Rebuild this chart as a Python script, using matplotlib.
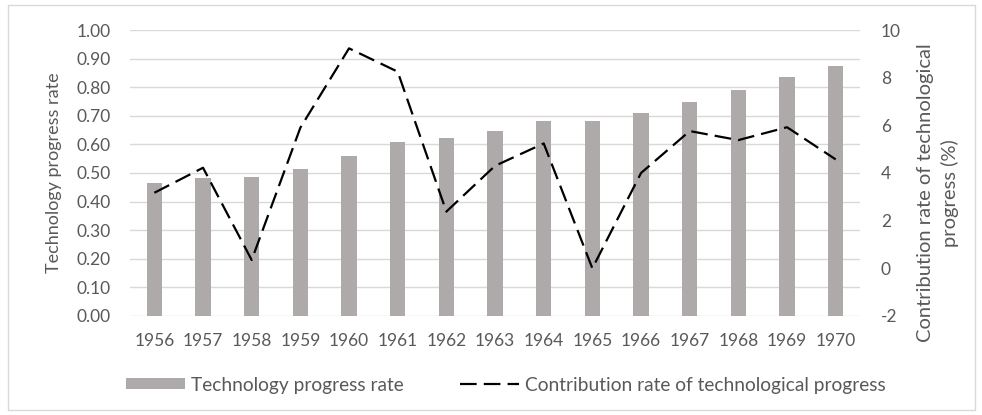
import matplotlib.pyplot as plt
import numpy as np
from matplotlib.patches import Rectangle

# -----------------------------
# Data
# -----------------------------
years = ["1956", "1957", "1958", "1959", "1960", "1961", "1962", "1963",
         "1964", "1965", "1966", "1967", "1968", "1969", "1970"]

tech_rate = [0.464, 0.484, 0.485, 0.513, 0.560, 0.607, 0.621, 0.648,
             0.682, 0.682, 0.709, 0.749, 0.790, 0.836, 0.874]

contribution = [3.17, 4.22, 0.35, 5.9, 9.23, 8.25, 2.38, 4.3,
                5.24, 0.0, 4.0, 5.76, 5.38, 5.92, 4.57]

# -----------------------------
# Style
# -----------------------------
plt.rcParams['font.family'] = ['Lato', 'DejaVu Sans']
plt.rcParams['axes.unicode_minus'] = False
text_color = "#595959"
bar_color = "#aeaaaa"
grid_color = "#d9d9d9"
fs = 12.5

fig = plt.figure(figsize=(9.82, 4.15), dpi=100)

# light frame round the whole chart
fig.patches.append(
    Rectangle((0.008, 0.012), 0.985, 0.976, transform=fig.transFigure,
              fill=False, edgecolor="#d9d9d9", linewidth=1)
)

ax = fig.add_axes([0.1324, 0.2386, 0.7434, 0.6891])
x = np.arange(len(years))

bars = ax.bar(x, tech_rate, width=0.31, color=bar_color, zorder=2,
              label="Technology progress rate")

ax.set_ylim(0, 1.0)
ax.set_yticks(np.arange(0, 1.01, 0.1))
ax.set_yticklabels([f"{v:.2f}" for v in np.arange(0, 1.01, 0.1)])
ax.set_xlim(-0.5, len(years) - 0.5)
ax.set_xticks(x)
ax.set_xticklabels(years)

ax.yaxis.grid(True, color=grid_color, linewidth=1, zorder=0)
ax.set_axisbelow(True)
for s in ax.spines.values():
    s.set_visible(False)
ax.tick_params(axis="both", length=0, labelsize=fs, colors=text_color)
ax.tick_params(axis="x", pad=12)
ax.tick_params(axis="y", pad=14)

ax.set_ylabel("Technology progress rate", fontsize=13, color=text_color,
              labelpad=10)

# -----------------------------
# Secondary axis: contribution rate
# -----------------------------
ax2 = ax.twinx()
line, = ax2.plot(x, contribution, color="black", linewidth=1.6,
                 linestyle=(0, (7.5, 3.2)), zorder=3,
                 label="Contribution rate of technological progress")
ax2.set_ylim(-2, 10)
ax2.set_yticks(np.arange(-2, 11, 2))
for s in ax2.spines.values():
    s.set_visible(False)
ax2.tick_params(axis="y", length=0, labelsize=fs, colors=text_color, pad=15)
ax2.set_ylabel("Contribution rate of technological\nprogress (%)",
               fontsize=14.5, color=text_color, rotation=90,
               linespacing=1.45)
ax2.yaxis.set_label_coords(1.078, 0.43)

# -----------------------------
# Legend
# -----------------------------
fig.legend([bars, line],
           ["Technology progress rate",
            "Contribution rate of technological progress"],
           loc="center", bbox_to_anchor=(0.515, 0.072), ncol=2,
           frameon=False, fontsize=13.8, labelcolor=text_color,
           handlelength=3.1, handleheight=0.5, handletextpad=0.3,
           columnspacing=2.9)

fig.savefig("out.png", dpi=100)
